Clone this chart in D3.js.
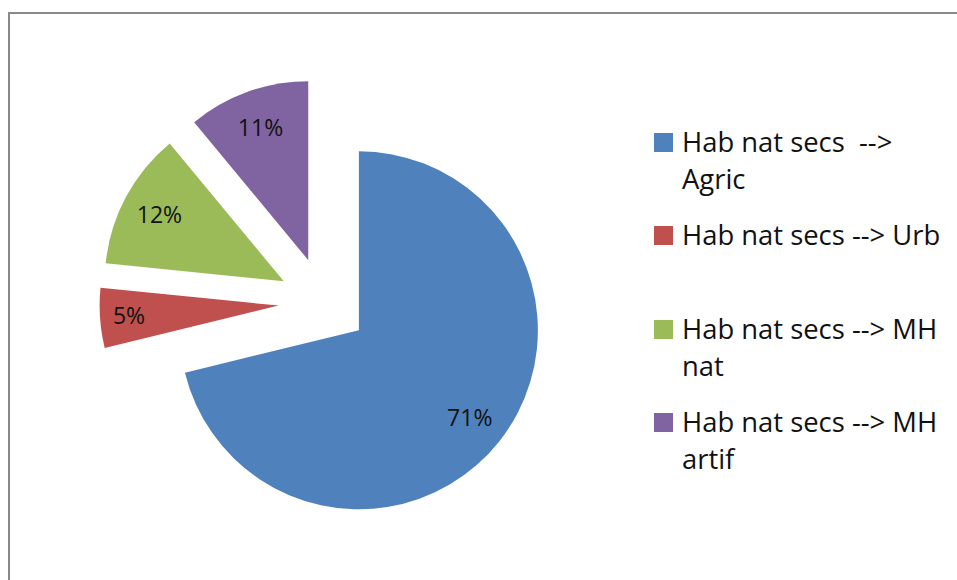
<!DOCTYPE html>
<html><head><meta charset="utf-8">
<script src="https://cdn.jsdelivr.net/npm/d3@7"></script>
<style>html,body{margin:0;padding:0;background:#fff;}svg{display:block;}</style>
</head><body>
<svg id="chart" width="957" height="580"></svg>
<script>
const categories = ["Hab nat secs  --> Agric", "Hab nat secs --> Urb", "Hab nat secs --> MH nat", "Hab nat secs --> MH artif"];
const legendLines = [["Hab nat secs  -->", "Agric"], ["Hab nat secs --> Urb"], ["Hab nat secs --> MH", "nat"], ["Hab nat secs --> MH", "artif"]];
const values = [71.2, 5.4, 12.4, 11.0];
const colors = ["#4F81BD", "#C0504D", "#9BBB59", "#8064A2"];

const svg = d3.select("#chart");
// chart border
svg.append("rect").attr("x", 9).attr("y", 13).attr("width", 1000).attr("height", 1000)
  .attr("fill", "none").attr("stroke", "#8a8a8a").attr("stroke-width", 2);

const cx = 323.5, cy = 302.5, r = 179, explode = 45;
const pie = d3.pie().sort(null).value(d => d);
const arcs = pie(values);
const arc = d3.arc().innerRadius(0).outerRadius(r);
const total = d3.sum(values);
const labelR = d => (d.endAngle - d.startAngle) < 0.4 ? 150 : 141;

const g = svg.append("g").attr("transform", `translate(${cx},${cy})`);
const slices = g.selectAll("g.slice").data(arcs).enter().append("g")
  .attr("transform", d => {
    const a = (d.startAngle + d.endAngle) / 2;
    return `translate(${explode * Math.sin(a)},${-explode * Math.cos(a)})`;
  });
slices.append("path").attr("d", arc).attr("fill", (d, i) => colors[i]);
slices.append("text")
  .attr("transform", d => `translate(${d3.arc().innerRadius(labelR(d)).outerRadius(labelR(d)).centroid(d)})`)
  .attr("text-anchor", "middle").attr("dy", "0.36em")
  .style("font-family", "'Open Sans', sans-serif").style("font-size", "23px").attr("fill", "#111")
  .text(d => Math.round(d.value / total * 100) + "%");

// legend
const legendY = [133, 226, 320, 413];
const lg = svg.append("g");
legendLines.forEach((lines, i) => {
  const e = lg.append("g").attr("transform", `translate(654,${legendY[i]})`);
  e.append("rect").attr("width", 19).attr("height", 19).attr("fill", colors[i]);
  lines.forEach((t, j) => {
    e.append("text").attr("x", 28).attr("y", 19 + j * 37)
      .attr("xml:space", "preserve").style("white-space", "pre")
      .style("font-family", "'Open Sans', sans-serif").style("font-size", "27.4px").attr("fill", "#111")
      .text(t);
  });
});
</script>
</body></html>
